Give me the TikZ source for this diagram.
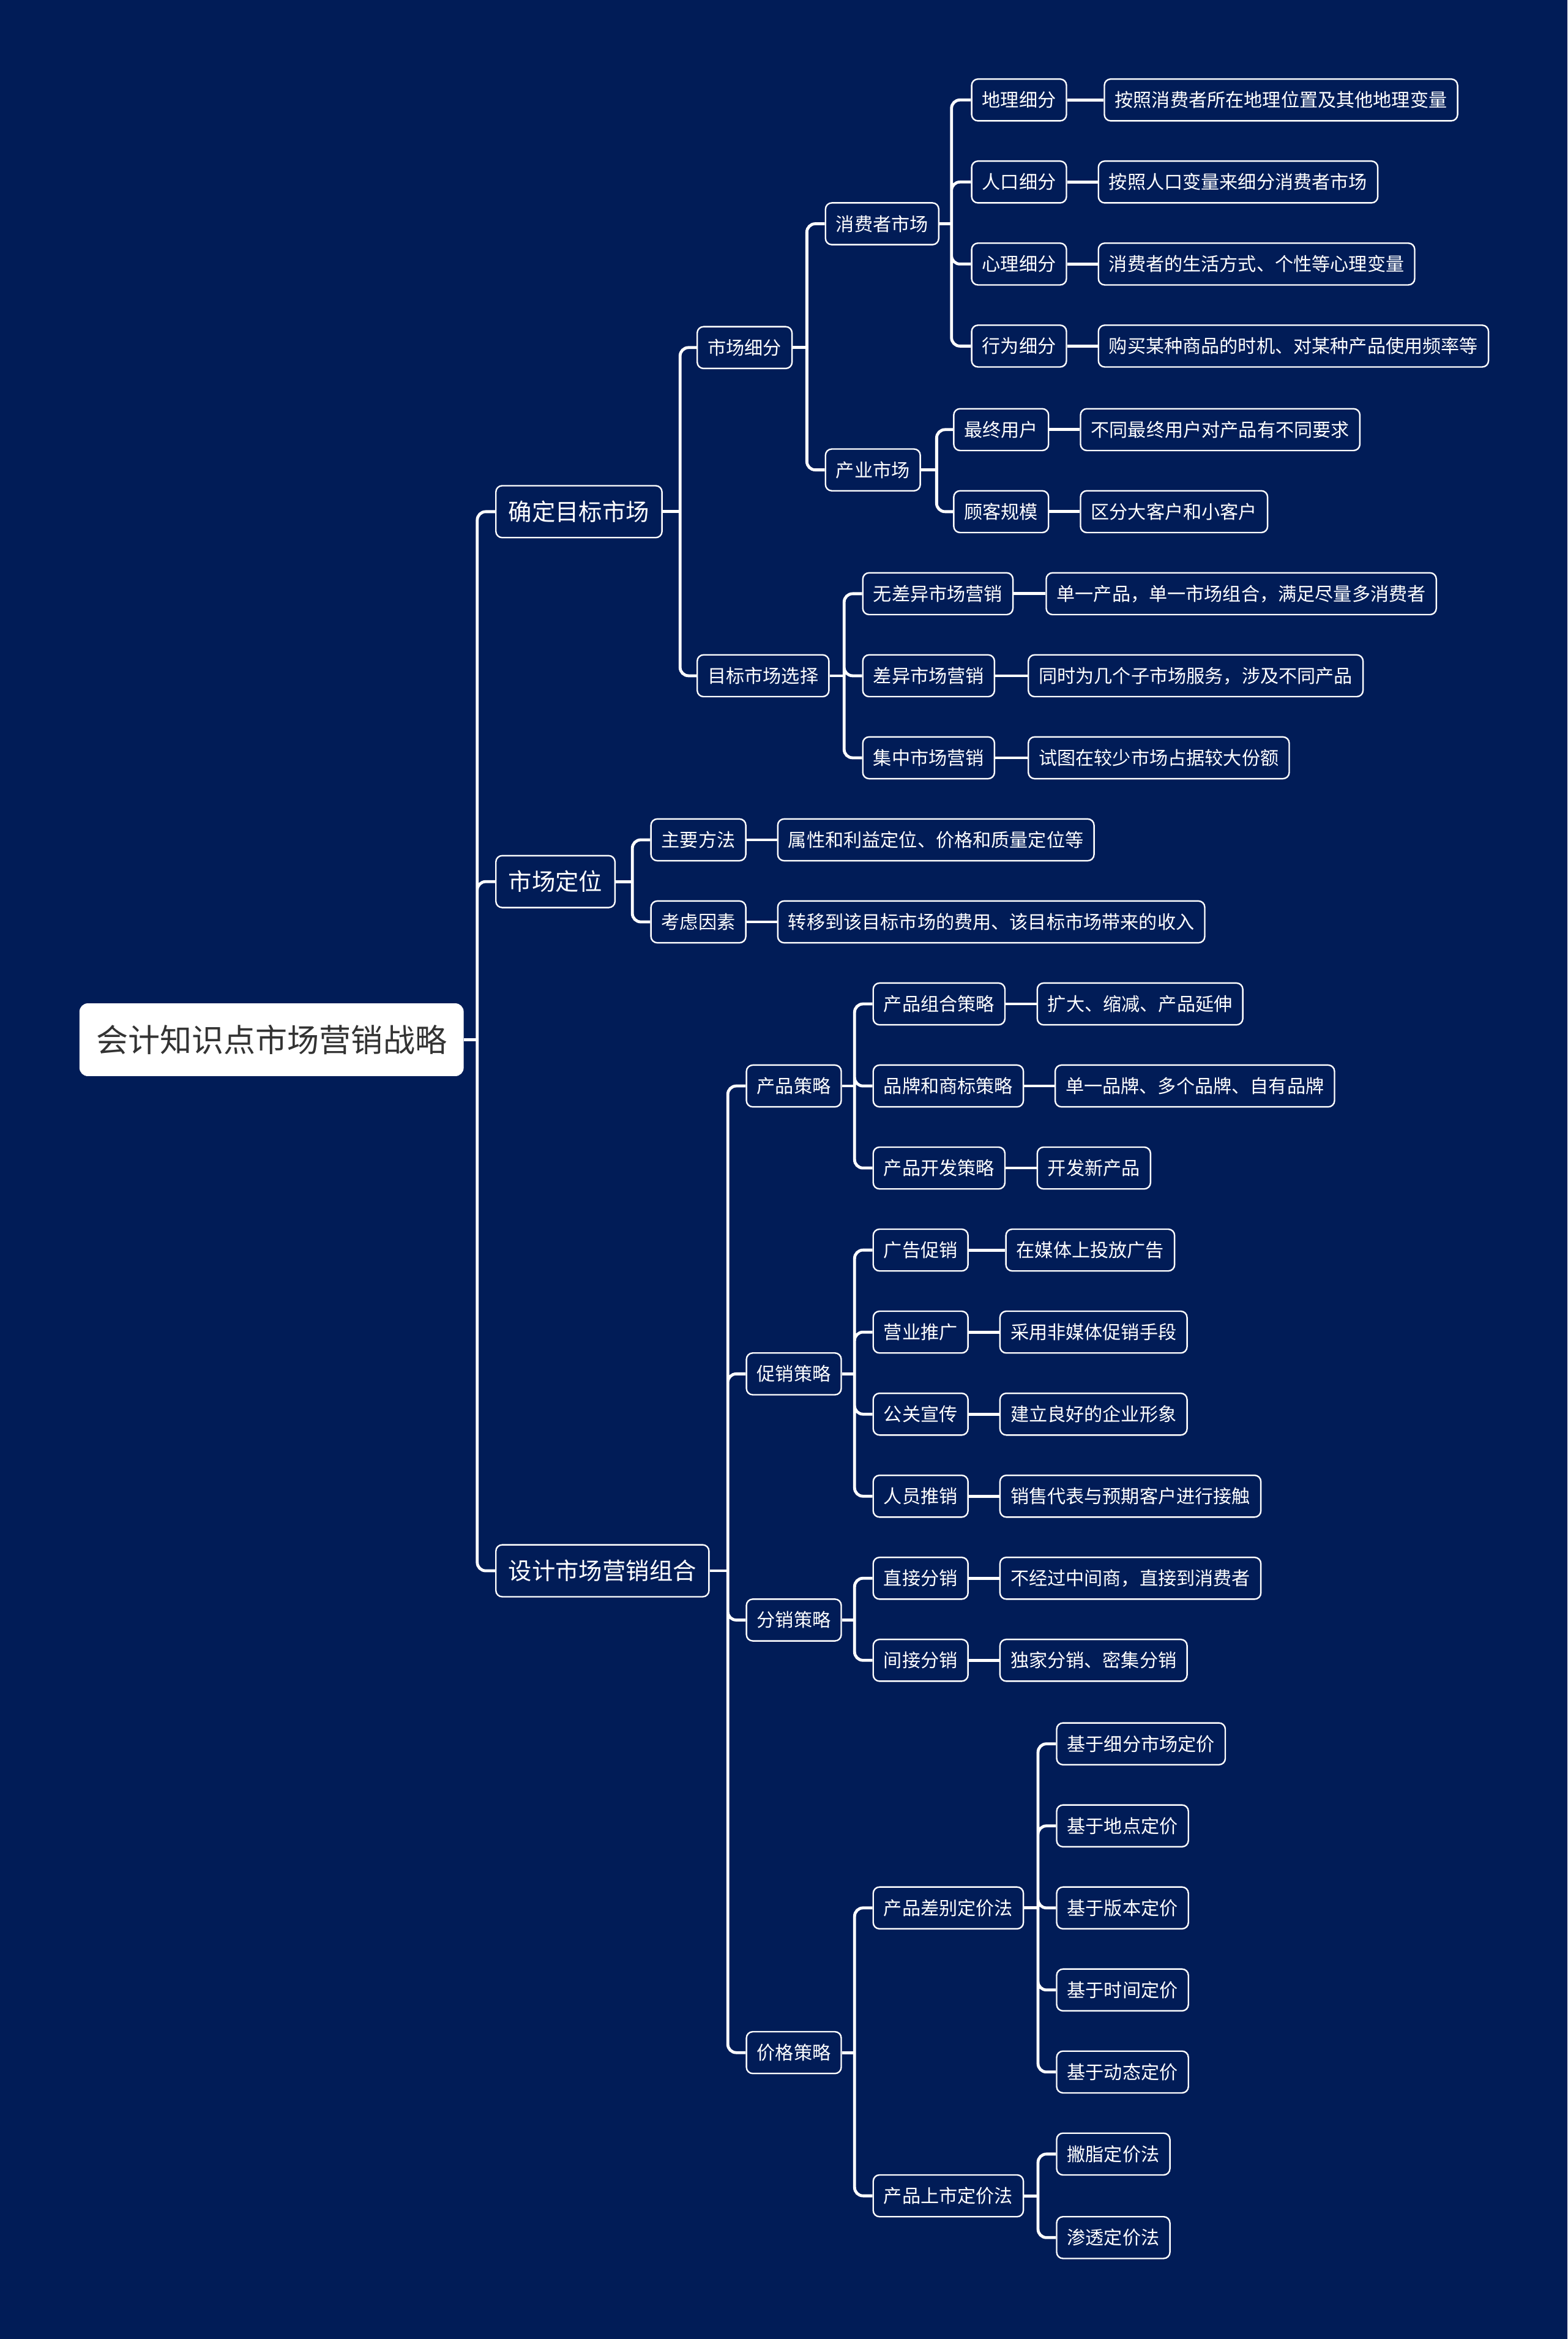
\documentclass[tikz,border=0pt]{standalone}
\usepackage{fontspec}
\setmainfont{Noto Sans CJK SC}
\usetikzlibrary{positioning}
\definecolor{mapFond}{RGB}{1,28,87}
\definecolor{mapTexte}{RGB}{51,51,51}

\begin{document}
\begin{tikzpicture}[
  x=0.025cm, y=-0.025cm, every node/.style={text=white, font=\fontsize{8.8}{10}\selectfont},
  racine/.style={fill=white, rounded corners=4pt, minimum height=1.22cm, inner xsep=8pt,
                 text=mapTexte, font=\fontsize{15.2}{18}\selectfont, anchor=west},
  branche/.style={draw=white, line width=0.7pt, rounded corners=3pt, fill=mapFond,
                  minimum height=0.87cm, inner xsep=6pt, font=\fontsize{11.2}{13}\selectfont, anchor=west},
  feuille/.style={draw=white, line width=0.7pt, rounded corners=3pt, fill=mapFond,
                  minimum height=0.7cm, inner xsep=5pt, anchor=west},
  lien/.style={draw=white, line width=1.4pt, rounded corners=4pt}
]
\fill[mapFond] (0,0) rectangle (1051,1568);

\node[racine] (root) at (53,697) {会计知识点市场营销战略};

\node[branche] (tgt) at (332,343)  {确定目标市场};
\node[branche] (pos) at (332,591)  {市场定位};
\node[branche] (mix) at (332,1053) {设计市场营销组合};

% Premiere branche : segmentation et choix du marche
\node[feuille] (seg)  at (467,233) {市场细分};
\node[feuille] (sel)  at (467,453) {目标市场选择};
\node[feuille] (cons) at (553,150) {消费者市场};
\node[feuille] (ind)  at (553,315) {产业市场};

\node[feuille] (geo)  at (651,67)  {地理细分};
\node[feuille] (geoT) at (740,67)  {按照消费者所在地理位置及其他地理变量};
\node[feuille] (pop)  at (651,122) {人口细分};
\node[feuille] (popT) at (736,122) {按照人口变量来细分消费者市场};
\node[feuille] (psy)  at (651,177) {心理细分};
\node[feuille] (psyT) at (736,177) {消费者的生活方式、个性等心理变量};
\node[feuille] (beh)  at (651,232) {行为细分};
\node[feuille] (behT) at (736,232) {购买某种商品的时机、对某种产品使用频率等};

\node[feuille] (user)  at (639,288) {最终用户};
\node[feuille] (userT) at (724,288) {不同最终用户对产品有不同要求};
\node[feuille] (size)  at (639,343) {顾客规模};
\node[feuille] (sizeT) at (724,343) {区分大客户和小客户};

\node[feuille] (undiff)  at (578,398) {无差异市场营销};
\node[feuille] (undiffT) at (701,398) {单一产品，单一市场组合，满足尽量多消费者};
\node[feuille] (diff)    at (578,453) {差异市场营销};
\node[feuille] (diffT)   at (689,453) {同时为几个子市场服务，涉及不同产品};
\node[feuille] (conc)    at (578,508) {集中市场营销};
\node[feuille] (concT)   at (689,508) {试图在较少市场占据较大份额};

% Positionnement
\node[feuille] (meth)  at (436,563) {主要方法};
\node[feuille] (methT) at (521,563) {属性和利益定位、价格和质量定位等};
\node[feuille] (fact)  at (436,618) {考虑因素};
\node[feuille] (factT) at (521,618) {转移到该目标市场的费用、该目标市场带来的收入};

% Mix marketing
\node[feuille] (prod)  at (500,728)  {产品策略};
\node[feuille] (promo) at (500,921)  {促销策略};
\node[feuille] (dist)  at (500,1086) {分销策略};
\node[feuille] (price) at (500,1376) {价格策略};

\node[feuille] (pmix)   at (585,673) {产品组合策略};
\node[feuille] (pmixT)  at (695,673) {扩大、缩减、产品延伸};
\node[feuille] (brand)  at (585,728) {品牌和商标策略};
\node[feuille] (brandT) at (707,728) {单一品牌、多个品牌、自有品牌};
\node[feuille] (pdev)   at (585,783) {产品开发策略};
\node[feuille] (pdevT)  at (695,783) {开发新产品};

\node[feuille] (adv)    at (585,838)  {广告促销};
\node[feuille] (advT)   at (674,838)  {在媒体上投放广告};
\node[feuille] (sales)  at (585,893)  {营业推广};
\node[feuille] (salesT) at (670,893)  {采用非媒体促销手段};
\node[feuille] (pr)     at (585,948)  {公关宣传};
\node[feuille] (prT)    at (670,948)  {建立良好的企业形象};
\node[feuille] (pers)   at (585,1003) {人员推销};
\node[feuille] (persT)  at (670,1003) {销售代表与预期客户进行接触};

\node[feuille] (direct)    at (585,1058) {直接分销};
\node[feuille] (directT)   at (670,1058) {不经过中间商，直接到消费者};
\node[feuille] (indirect)  at (585,1113) {间接分销};
\node[feuille] (indirectT) at (670,1113) {独家分销、密集分销};

\node[feuille] (pdiff)   at (585,1279) {产品差别定价法};
\node[feuille] (plaunch) at (585,1472) {产品上市定价法};
\node[feuille] (b1) at (708,1169) {基于细分市场定价};
\node[feuille] (b2) at (708,1224) {基于地点定价};
\node[feuille] (b3) at (708,1279) {基于版本定价};
\node[feuille] (b4) at (708,1334) {基于时间定价};
\node[feuille] (b5) at (708,1389) {基于动态定价};
\node[feuille] (skim) at (708,1444) {撇脂定价法};
\node[feuille] (pen)  at (708,1500) {渗透定价法};

% Points de jonction des troncs verticaux
\coordinate (root-j)    at (320,697);
\coordinate (tgt-j)     at (456,343);
\coordinate (seg-j)     at (541,233);
\coordinate (cons-j)    at (638,150);
\coordinate (ind-j)     at (628,315);
\coordinate (sel-j)     at (566,453);
\coordinate (pos-j)     at (424,591);
\coordinate (mix-j)     at (488,1053);
\coordinate (prod-j)    at (573,728);
\coordinate (promo-j)   at (573,921);
\coordinate (dist-j)    at (573,1086);
\coordinate (price-j)   at (573,1376);
\coordinate (pdiff-j)   at (696,1279);
\coordinate (plaunch-j) at (696,1472);

\draw[lien] (root.east) -- (root-j);
\draw[lien] (root-j) |- (tgt.west) (root-j) |- (pos.west) (root-j) |- (mix.west);

\draw[lien] (tgt.east) -- (tgt-j);
\draw[lien] (tgt-j) |- (seg.west) (tgt-j) |- (sel.west);
\draw[lien] (seg.east) -- (seg-j);
\draw[lien] (seg-j) |- (cons.west) (seg-j) |- (ind.west);
\draw[lien] (cons.east) -- (cons-j);
\draw[lien] (cons-j) |- (geo.west) (cons-j) |- (pop.west) (cons-j) |- (psy.west) (cons-j) |- (beh.west);
\draw[lien] (ind.east) -- (ind-j);
\draw[lien] (ind-j) |- (user.west) (ind-j) |- (size.west);
\draw[lien] (sel.east) -- (sel-j);
\draw[lien] (sel-j) |- (undiff.west) (sel-j) |- (diff.west) (sel-j) |- (conc.west);

\draw[lien] (pos.east) -- (pos-j);
\draw[lien] (pos-j) |- (meth.west) (pos-j) |- (fact.west);

\draw[lien] (mix.east) -- (mix-j);
\draw[lien] (mix-j) |- (prod.west) (mix-j) |- (promo.west) (mix-j) |- (dist.west) (mix-j) |- (price.west);
\draw[lien] (prod.east) -- (prod-j);
\draw[lien] (prod-j) |- (pmix.west) (prod-j) |- (brand.west) (prod-j) |- (pdev.west);
\draw[lien] (promo.east) -- (promo-j);
\draw[lien] (promo-j) |- (adv.west) (promo-j) |- (sales.west) (promo-j) |- (pr.west) (promo-j) |- (pers.west);
\draw[lien] (dist.east) -- (dist-j);
\draw[lien] (dist-j) |- (direct.west) (dist-j) |- (indirect.west);
\draw[lien] (price.east) -- (price-j);
\draw[lien] (price-j) |- (pdiff.west) (price-j) |- (plaunch.west);
\draw[lien] (pdiff.east) -- (pdiff-j);
\draw[lien] (pdiff-j) |- (b1.west) (pdiff-j) |- (b2.west) (pdiff-j) |- (b3.west)
            (pdiff-j) |- (b4.west) (pdiff-j) |- (b5.west);
\draw[lien] (plaunch.east) -- (plaunch-j);
\draw[lien] (plaunch-j) |- (skim.west) (plaunch-j) |- (pen.west);

% Liens vers les feuilles
\draw[lien] (geo) -- (geoT);   \draw[lien] (pop) -- (popT);
\draw[lien] (psy) -- (psyT);   \draw[lien] (beh) -- (behT);
\draw[lien] (user) -- (userT); \draw[lien] (size) -- (sizeT);
\draw[lien] (undiff) -- (undiffT); \draw[lien] (diff) -- (diffT); \draw[lien] (conc) -- (concT);
\draw[lien] (meth) -- (methT); \draw[lien] (fact) -- (factT);
\draw[lien] (pmix) -- (pmixT); \draw[lien] (brand) -- (brandT); \draw[lien] (pdev) -- (pdevT);
\draw[lien] (adv) -- (advT);   \draw[lien] (sales) -- (salesT);
\draw[lien] (pr) -- (prT);     \draw[lien] (pers) -- (persT);
\draw[lien] (direct) -- (directT); \draw[lien] (indirect) -- (indirectT);
\end{tikzpicture}
\end{document}
